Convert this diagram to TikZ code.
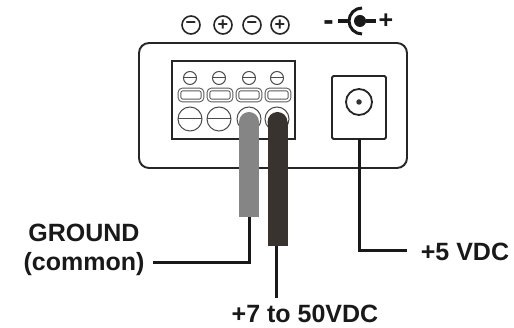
\documentclass[tikz,border=0pt]{standalone}
\usepackage{fontspec}
\setmainfont{Liberation Sans}
\usetikzlibrary{positioning}
\definecolor{wireGray}{HTML}{858585}
\definecolor{wireDark}{HTML}{38332E}
\tikzset{
  font=\fontsize{25}{29}\selectfont\bfseries,
  lbl/.style={inner sep=0pt, align=center, text=black!90},
  box/.style={draw, rectangle, line width=1.9pt, black!85, inner sep=0pt, outer sep=0pt},
  polarity/.style={draw, circle, line width=1.6pt, black!85, minimum size=18pt, inner sep=0pt, outer sep=0pt, font=\fontsize{18}{18}\selectfont\bfseries},
  smallscrew/.style={draw, circle, black!70, line width=1pt, minimum size=13pt, inner sep=0pt, outer sep=0pt},
  bigscrew/.style={draw, circle, black!70, line width=1pt, minimum size=24pt, inner sep=0pt, outer sep=0pt},
  slot/.style={draw, rectangle, rounded corners=3pt, black!65, double=white, double distance=1.6pt, line width=1pt, minimum width=23pt, minimum height=11pt, inner sep=0pt, outer sep=0pt},
  grayhead/.style={circle, fill=wireGray, minimum size=20pt, inner sep=0pt, outer sep=0pt},
  darkhead/.style={circle, fill=wireDark, minimum size=20pt, inner sep=0pt, outer sep=0pt},
  lead/.style={draw, line width=3pt, black!90}
}
\begin{document}
\begin{tikzpicture}[x=1pt, y=-1pt]
    \useasboundingbox (0,0) rectangle (514,328);
    % housing and sockets
    \node[box, rounded corners=10pt, minimum width=268pt, minimum height=125pt] (housing) at (273,105.5) {};
    \node[box, minimum width=123pt, minimum height=78pt] (terminal) at (233.5,100) {};
    \node[box, rounded corners=1.5pt, minimum width=54pt, minimum height=63pt] (jackbox) at (359,107.5) {};
    \node[draw, circle, line width=1.8pt, black!85, minimum size=26pt, inner sep=0pt] (jackring) at (359,102) {};
    \node[circle, fill=black!80, minimum size=5.5pt, inner sep=0pt] (jackpin) at (359,102) {};

    % polarity marks
    \node[polarity] (polA) at (191,25) {−};
    \node[polarity, right=14pt of polA] (polB) {+};
    \node[polarity, right=11pt of polB] (polC) {−};
    \node[polarity, right=10pt of polC] (polD) {+};

    % jack symbol
    \node[lbl, font=\fontsize{31}{31}\selectfont\bfseries] (jackminus) at (328.5,25.5) {-};
    \node[circle, fill=black!90, minimum size=12pt, inner sep=0pt] (jackdot) at (360,21) {};
    \node[lbl, font=\fontsize{25}{25}\selectfont\bfseries] (jackplus) at (386,21) {+};
    \coordinate (jacktip) at (349,21);
    \coordinate (jackleft) at (338,21);
    \coordinate (jackright) at (376,21);
    \draw[line width=3pt, black!90] (362,8) arc[start angle=90, end angle=270, radius=13pt];
    \draw[line width=3.4pt, black!90] (jackleft) -- (jacktip);
    \draw[line width=3.4pt, black!90] (jackdot) -- (jackright);

    % terminal screws
    \node[smallscrew] (screwA) at (190,78) {};
    \node[smallscrew, right=16pt of screwA] (screwB) {};
    \node[smallscrew, right=17pt of screwB] (screwC) {};
    \node[smallscrew, right=15pt of screwC] (screwD) {};
    \draw[black!70, line width=1pt] (screwA.west) -- (screwA.east);
    \draw[black!70, line width=1pt] (screwB.west) -- (screwB.east);
    \draw[black!70, line width=1pt] (screwC.west) -- (screwC.east);
    \draw[black!70, line width=1pt] (screwD.west) -- (screwD.east);
    \node[slot] (slotA) at (191,95) {};
    \node[slot, right=6pt of slotA] (slotB) {};
    \node[slot, right=6pt of slotB] (slotC) {};
    \node[slot, right=6pt of slotC] (slotD) {};
    \node[bigscrew] (bigA) at (190,119) {};
    \node[bigscrew, right=5pt of bigA] (bigB) {};
    \node[bigscrew, right=6pt of bigB] (bigC) {};
    \node[bigscrew, right=4pt of bigC] (bigD) {};
    \draw[black!70, line width=1pt] (bigA.west) -- (bigA.east);
    \draw[black!70, line width=1pt] (bigB.west) -- (bigB.east);

    % wires
    \node[grayhead] (headgnd) at (249,122) {};
    \node[darkhead] (headpos) at (277.5,122) {};
    \coordinate (endgnd) at (249,217);
    \coordinate (endpos) at (277.5,246);
    \draw[wireGray, line width=20pt] (headgnd.center) -- (endgnd);
    \draw[wireDark, line width=20pt] (headpos.center) -- (endpos);

    % labels
    \node[lbl] (ground) at (84,250) {GROUND\\(common)};
    \node[lbl] (vpos) at (305,314) {+7 to 50VDC};
    \node[lbl] (vjack) at (465,252) {+5 VDC};
    \coordinate (gndstart) at (153,263);
    \coordinate (posstop) at (276,298);
    \coordinate (jackstop) at (407,251);

    \draw[lead] (endgnd) |- (gndstart);
    \draw[lead] (endpos -| posstop) -- (posstop);
    \draw[lead] (jackbox.south) |- (jackstop);
\end{tikzpicture}
\end{document}
